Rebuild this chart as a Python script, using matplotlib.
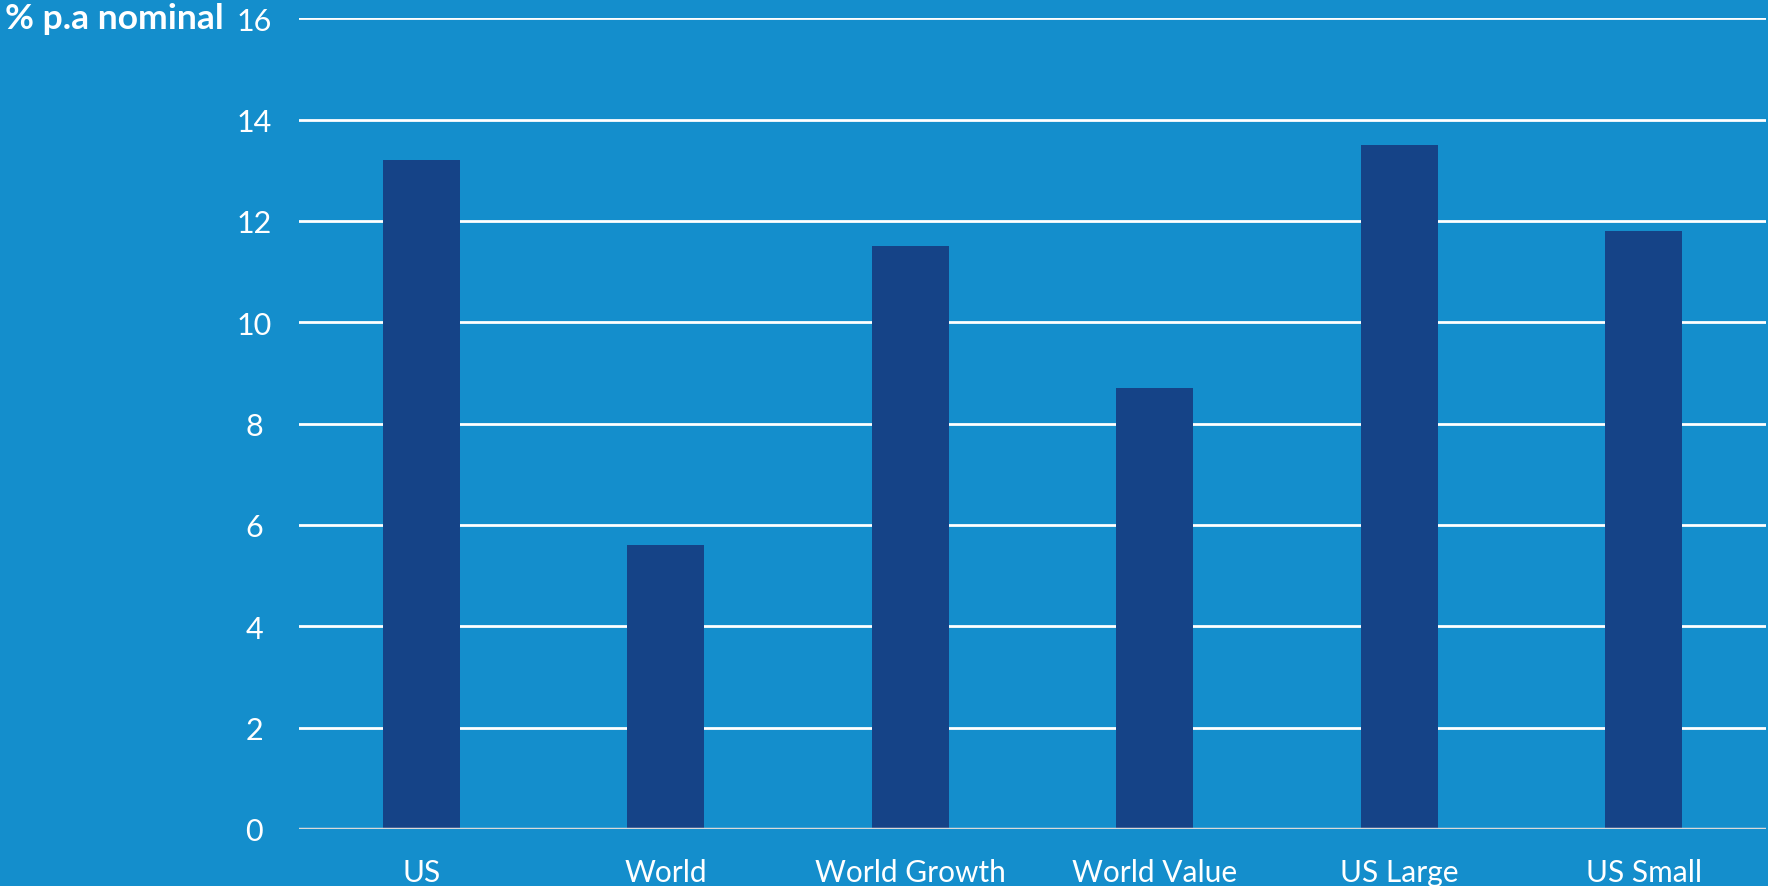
import matplotlib
matplotlib.use("Agg")
import matplotlib.pyplot as plt

# Chart data
categories = ["US", "World", "World Growth", "World Value", "US Large", "US Small"]
returns = [13.2, 5.6, 11.5, 8.7, 13.5, 11.8]
y_ticks = [0, 2, 4, 6, 8, 10, 12, 14, 16]

bg = "#148ECC"
bar_color = "#154387"

plt.rcParams['font.family'] = ['Lato', 'DejaVu Sans']

fig = plt.figure(figsize=(17.68, 8.87), dpi=100, facecolor=bg)
ax = fig.add_axes([299 / 1768, 57 / 887, (1766 - 299) / 1768, (830 - 19.3) / 887])
ax.set_facecolor(bg)

x = list(range(len(categories)))
ax.bar(x, returns, width=0.314, color=bar_color, zorder=3)

ax.set_ylim(0, 16)
ax.set_xlim(-0.5, 5.5)
ax.set_yticks(y_ticks)
ax.set_xticks(x)
ax.set_xticklabels(categories)
ax.grid(axis='y', color='white', linewidth=2, zorder=1)
# baseline is a light grey rather than white
ax.axhline(0, color='#D9D9D9', linewidth=2.5, zorder=4)

for s in ax.spines.values():
    s.set_visible(False)

ax.tick_params(axis='both', length=0, colors='white', labelsize=22)
ax.tick_params(axis='y', pad=32.4)
ax.tick_params(axis='x', pad=21)
ax.tick_params(axis='x', labelsize=21.5)
for lbl in ax.get_yticklabels():
    lbl.set_horizontalalignment('center')

fig.text(5 / 1768, 1 - 19 / 887, "% p.a nominal", color='white', fontsize=25.5,
         fontweight='bold', ha='left', va='center')

fig.savefig("out.png", dpi=100, facecolor=bg)
